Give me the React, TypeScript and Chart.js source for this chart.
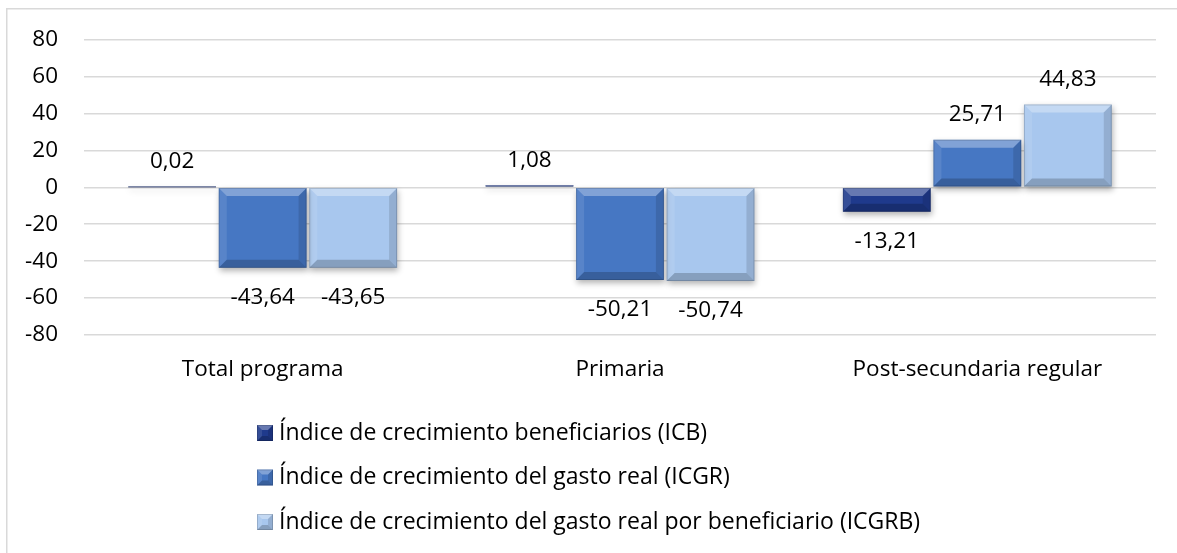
import React, { useEffect, useRef } from "react";
import { Chart, registerables } from "chart.js";

Chart.register(...registerables);

const categories = ["Total programa", "Primaria", "Post-secundaria regular"];
const icbValues = [0.02, 1.08, -13.21];
const icgrValues = [-43.64, -50.21, 25.71];
const icgrbValues = [-43.65, -50.74, 44.83];
const seriesNames = [
  "Índice de crecimiento beneficiarios (ICB)",
  "Índice de crecimiento del gasto real (ICGR)",
  "Índice de crecimiento del gasto real por beneficiario (ICGRB)",
];
const seriesColors = ["#1f3a8c", "#4677c3", "#a8c7ee"];
const yMin = -80;
const yMax = 80;
const yStep = 20;

const FONT = "'Open Sans', sans-serif";
const FONT_SIZE = 22.5;
const LEGEND_FONT_SIZE = 23;

function fmt(v: number) {
  return v.toFixed(2).replace(".", ",");
}

function bevel(ctx: CanvasRenderingContext2D, x0: number, y0: number, x1: number, y1: number, size: number) {
  const w = x1 - x0;
  const h = y1 - y0;
  const b = Math.max(0, Math.min(size, w / 2, h / 2));
  if (h < 0.5) return;
  const poly = (pts: number[][], color: string) => {
    ctx.beginPath();
    ctx.moveTo(pts[0][0], pts[0][1]);
    for (let i = 1; i < pts.length; i++) ctx.lineTo(pts[i][0], pts[i][1]);
    ctx.closePath();
    ctx.fillStyle = color;
    ctx.fill();
  };
  poly([[x0, y0], [x1, y0], [x1 - b, y0 + b], [x0 + b, y0 + b]], "rgba(255,255,255,0.32)");
  poly([[x0, y0], [x0 + b, y0 + b], [x0 + b, y1 - b], [x0, y1]], "rgba(255,255,255,0.1)");
  poly([[x1, y0], [x1, y1], [x1 - b, y1 - b], [x1 - b, y0 + b]], "rgba(0,0,0,0.12)");
  poly([[x0, y1], [x1, y1], [x1 - b, y1 - b], [x0 + b, y1 - b]], "rgba(0,0,0,0.2)");
  ctx.strokeStyle = "rgba(0,0,0,0.15)";
  ctx.lineWidth = 1;
  ctx.strokeRect(x0 + 0.5, y0 + 0.5, w - 1, h - 1);
}

const customPlugin = {
  id: "custom",
  beforeDraw(chart: any) {
    const ctx = chart.ctx as CanvasRenderingContext2D;
    ctx.save();
    ctx.fillStyle = "#ffffff";
    ctx.fillRect(0, 0, chart.width, chart.height);
    ctx.strokeStyle = "#d9d9d9";
    ctx.lineWidth = 1.5;
    ctx.strokeRect(6.75, 8.75, chart.width + 20, chart.height + 20);
    ctx.restore();
  },
  beforeDatasetsDraw(chart: any) {
    const ctx = chart.ctx as CanvasRenderingContext2D;
    ctx.save();
    ctx.shadowColor = "rgba(0,0,0,0.3)";
    ctx.shadowBlur = 6;
    ctx.shadowOffsetX = 1;
    ctx.shadowOffsetY = 3;
  },
  afterDatasetsDraw(chart: any) {
    const ctx = chart.ctx as CanvasRenderingContext2D;
    ctx.restore();
    ctx.save();
    chart.data.datasets.forEach((ds: any, di: number) => {
      const meta = chart.getDatasetMeta(di);
      meta.data.forEach((bar: any, i: number) => {
        const top = Math.min(bar.y, bar.base);
        const bottom = Math.max(bar.y, bar.base);
        const x0 = bar.x - bar.width / 2;
        const x1 = bar.x + bar.width / 2;
        bevel(ctx, x0, top, x1, bottom, 8);
        const v = ds.data[i] as number;
        ctx.fillStyle = "#000";
        ctx.font = `${FONT_SIZE}px ${FONT}`;
        ctx.textAlign = "center";
        ctx.textBaseline = "middle";
        const ly = v >= 0 ? top - 25 : bottom + 30;
        ctx.fillText(fmt(v), bar.x, ly);
      });
    });
    // legend
    const legendX = 257;
    const rows = [433, 477.5, 522];
    chart.data.datasets.forEach((ds: any, di: number) => {
      const cy = rows[di];
      ctx.fillStyle = ds.backgroundColor;
      ctx.fillRect(legendX, cy - 8, 16, 16);
      bevel(ctx, legendX, cy - 8, legendX + 16, cy + 8, 5);
      ctx.fillStyle = "#000";
      ctx.font = `${LEGEND_FONT_SIZE}px ${FONT}`;
      ctx.textAlign = "left";
      ctx.textBaseline = "middle";
      ctx.fillText(ds.label, legendX + 22, cy);
    });
    ctx.restore();
  },
};

export default function App() {
  const ref = useRef<HTMLCanvasElement | null>(null);
  useEffect(() => {
    if (!ref.current) return;
    const series = [icbValues, icgrValues, icgrbValues];
    const chart = new Chart(ref.current, {
      type: "bar",
      data: {
        labels: categories,
        datasets: series.map((d, i) => ({
          label: seriesNames[i],
          data: d,
          backgroundColor: seriesColors[i],
          borderWidth: 0,
          categoryPercentage: 0.76,
          barPercentage: 0.97,
        })),
      },
      options: {
        responsive: false,
        animation: false,
        devicePixelRatio: 1,
        layout: { padding: { left: 0, right: 21, top: 38, bottom: 157 } },
        plugins: {
          legend: { display: false },
          tooltip: { enabled: false },
        },
        scales: {
          x: {
            grid: { display: false, drawTicks: false },
            border: { display: false },
            ticks: {
              color: "#000",
              font: { family: FONT, size: FONT_SIZE },
              padding: 21,
              maxRotation: 0,
            },
            afterFit: (s: any) => {
              s.height = 61;
            },
          },
          y: {
            min: yMin,
            max: yMax,
            grid: { color: "#d9d9d9", lineWidth: 1.5, drawTicks: false },
            border: { display: false },
            ticks: {
              stepSize: yStep,
              color: "#000",
              font: { family: FONT, size: FONT_SIZE },
              padding: 26,
            },
            afterFit: (s: any) => {
              s.width = 84;
            },
          },
        },
      },
      plugins: [customPlugin],
    });
    return () => chart.destroy();
  }, []);
  return (
    <div style={{ position: "absolute", left: 0, top: 0, width: 1177, height: 553 }}>
      <canvas ref={ref} width={1177} height={553} style={{ width: 1177, height: 553, display: "block" }} />
    </div>
  );
}
